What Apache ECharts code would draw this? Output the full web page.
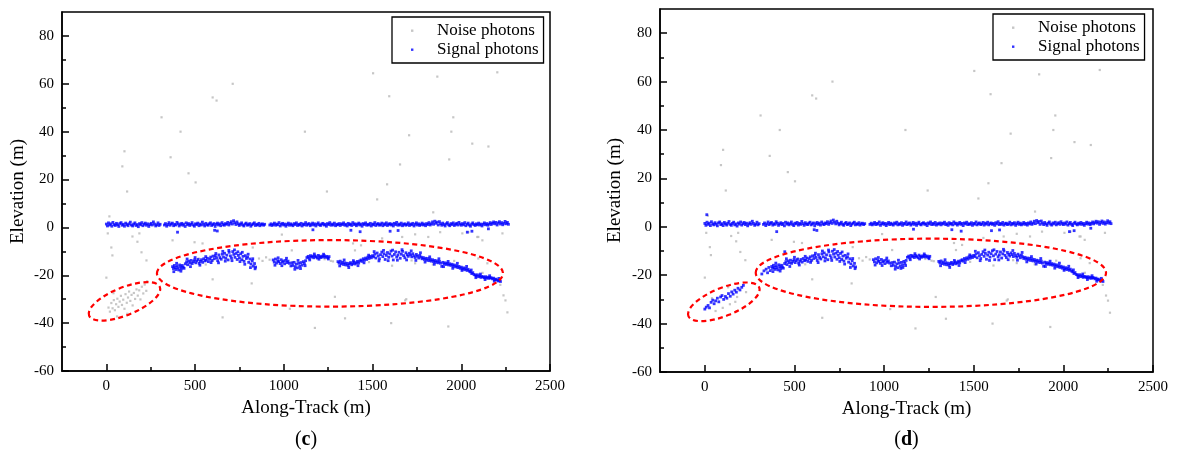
<!DOCTYPE html>
<html>
<head>
<meta charset="utf-8">
<script src="https://cdn.jsdelivr.net/npm/echarts@6/dist/echarts.min.js"></script>
<style>html,body{margin:0;padding:0;background:#fff;}#chart{width:1177px;height:462px;}</style>
</head>
<body>
<div id="chart"></div>
<script>
const xTickLabels = [0, 500, 1000, 1500, 2000, 2500];
const xMinorTicks = [250, 750, 1250, 1750, 2250];
const yTickLabels = [-60, -40, -20, 0, 20, 40, 60, 80];
const yMinorTicks = [-50, -30, -10, 10, 30, 50, 70];
const panelLabels = ['c', 'd'];
const legendNames = ['Noise photons', 'Signal photons'];

// signal photons: water surface band
const signalSurface = [
[0,1.4],[6,0.6],[12,1.9],[18,1.0],[25,1.5],[31,0.5],[37,2.1],[44,1.2],[50,0.8],[57,1.7],[63,1.1],[70,0.4],[76,1.6],[83,2.0],[89,0.9],[96,1.3],[102,0.5],[109,1.8],[115,1.2],[122,0.7],[128,1.5],[135,2.2],[141,1.0],[148,0.6],[154,1.4],[161,1.9],[167,0.8],[174,1.2],[180,0.3],[187,1.6],[193,1.1],[200,2.0],[206,0.7],[213,1.3],[219,1.8],[226,0.9],[232,1.5],[239,0.4],[245,1.2],[252,1.7],[258,1.0],[265,2.3],[271,1.4],[278,0.6],[284,1.1],[291,1.9],[297,0.8],[303,1.3],
[327,1.0],[333,1.6],[340,0.5],[346,1.2],[353,2.0],[359,0.9],[366,1.4],[372,1.8],[379,0.7],[385,1.3],[392,1.0],[398,2.1],[405,1.5],[411,0.6],[418,1.2],[424,1.7],[431,0.9],[437,1.4],[444,0.4],[450,1.9],[457,1.1],[463,1.6],[470,0.8],[476,1.3],[483,2.0],[489,1.0],[496,0.5],[502,1.5],[509,1.2],[515,1.8],[522,0.7],[528,1.4],[535,1.0],[541,2.2],[548,1.3],[554,0.6],[561,1.7],[567,1.1],[574,0.9],[580,1.5],[587,1.9],[593,0.8],[600,1.2],[606,1.6],[613,0.4],[619,1.3],[626,1.8],[632,1.0],[639,1.5],[645,0.7],[652,2.0],[658,1.2],[665,0.9],[671,1.6],[678,1.3],[684,2.1],[691,1.0],[697,1.7],[704,2.4],[710,1.4],[717,2.8],[723,1.9],[730,1.2],[736,2.3],[743,1.5],[749,0.8],[756,1.3],[762,1.9],[769,1.0],[775,0.6],[782,1.4],[788,1.8],[795,0.9],[801,1.2],[808,1.6],[814,0.5],[821,1.1],[827,1.5],[834,1.9],[840,0.8],[847,1.3],[853,1.0],[860,1.7],[866,0.7],[873,1.2],[879,1.5],[886,0.9],[892,1.3],
[921,1.0],[928,1.5],[934,0.8],[941,1.2],[947,1.8],[954,0.9],[960,1.4],[967,1.1],[973,2.0],[980,0.6],[986,1.3],[993,1.7],[999,1.0],[1006,1.4],[1012,0.5],[1019,1.2],[1025,1.8],[1032,0.9],[1038,1.5],[1045,1.1],[1051,0.7],[1058,1.6],[1064,1.2],[1071,1.9],[1077,0.8],[1084,1.3],[1090,1.0],[1097,1.7],[1103,0.6],[1110,1.4],[1116,1.1],[1123,2.0],[1129,0.9],[1136,1.3],[1142,1.6],[1149,0.7],[1155,1.2],[1162,1.8],[1168,1.0],[1175,1.5],[1181,0.6],[1188,1.3],[1194,1.9],[1201,1.1],[1207,0.8],[1214,1.4],[1220,1.7],[1227,1.0],[1233,1.3],[1240,0.5],[1246,1.6],[1253,1.2],[1259,2.0],[1266,0.9],[1272,1.4],[1279,1.0],[1285,1.8],[1292,0.7],[1298,1.3],[1305,1.1],[1311,1.6],[1318,0.8],[1324,1.5],[1331,1.2],[1337,1.9],[1344,0.9],[1350,1.3],[1357,0.6],[1363,1.7],[1370,1.1],[1376,1.4],[1383,0.8],[1389,2.0],[1396,1.2],[1402,1.5],[1409,0.7],[1415,1.3],[1422,1.8],[1428,1.0],[1435,1.4],[1441,0.5],[1448,1.6],[1454,1.2],[1461,1.9],[1467,0.9],[1474,1.3],[1480,1.0],[1487,1.7],[1493,0.6],[1500,1.4],[1506,1.1],[1513,2.0],[1519,0.8],[1526,1.3],[1532,1.6],[1539,0.9],[1545,1.2],[1552,1.8],[1558,0.7],[1565,1.5],[1571,1.1],[1578,1.9],[1584,0.8],[1591,1.3],[1597,1.6],[1604,1.0],[1610,1.4],[1617,0.6],[1623,1.7],[1630,1.2],[1636,2.1],[1643,0.9],[1649,1.4],[1656,1.0],[1662,1.8],[1669,0.7],[1675,1.3],[1682,1.5],[1688,0.9],[1695,1.2],[1701,1.9],[1708,0.8],[1714,1.4],[1721,1.1],[1727,1.7],[1734,0.6],[1740,1.3],[1747,1.9],[1753,1.0],[1760,1.5],[1766,0.8],[1773,1.2],[1779,1.8],[1786,1.0],[1792,1.4],[1799,0.7],[1805,1.6],[1812,1.2],[1818,2.0],[1825,1.0],[1831,1.5],[1838,2.3],[1844,1.3],[1851,2.6],[1857,1.7],[1864,2.2],[1870,1.0],[1877,2.4],[1883,1.5],[1890,0.9],[1896,1.8],[1903,1.2],[1909,0.6],[1916,1.5],[1922,2.0],[1929,1.1],[1935,0.7],[1942,1.6],[1948,1.2],[1955,1.9],[1961,0.8],[1968,1.3],[1974,1.7],[1981,1.0],[1987,2.1],[1994,1.4],[2000,0.9],[2007,1.6],[2013,1.1],[2020,2.0],[2026,0.7],[2033,1.3],[2039,1.8],[2046,1.0],[2052,0.5],[2059,1.4],[2065,1.9],[2072,1.2],[2078,0.8],[2085,1.5],[2091,1.1],[2098,1.8],[2104,1.0],[2111,1.4],[2117,0.6],[2124,1.3],[2130,1.9],[2137,1.1],[2143,1.6],[2150,0.9],[2156,1.4],[2163,2.0],[2169,1.2],[2176,1.7],[2182,2.3],[2189,1.5],[2195,2.1],[2202,1.0],[2208,1.8],[2215,2.4],[2221,1.4],[2228,2.0],[2234,1.1],[2241,1.7],[2247,2.5],[2254,1.5],[2260,2.1],[2266,1.3]
];
const surfaceOutliers = [[401,-2],[610,-1.2],[625,-1.5],[1164,-1],[1378,-1.2],[1430,-1.8],[1599,-1.6],[1644,-1.3],[2034,-2],[2060,-1.6],[2153,-0.6]];

// signal photons: lake bottom band
const signalGround = [
[373,-16.4],[378,-17.2],[383,-15.9],[388,-16.8],[393,-17.6],[398,-16.1],[403,-16.9],[408,-17.8],[413,-15.7],[418,-16.5],[423,-17.3],[428,-15.9],[433,-16.6],[438,-17.1],
[445,-15.2],[452,-14.4],[458,-15.6],[465,-14.1],[471,-14.9],[478,-13.8],[484,-15.1],[491,-14.3],[497,-13.6],[504,-14.8],[510,-14.0],[517,-13.4],[523,-15.0],[530,-14.2],[536,-13.5],[543,-14.6],[549,-13.1],[556,-14.0],[562,-13.7],[569,-12.9],[575,-14.3],
[582,-13.2],[588,-12.4],[595,-13.8],[601,-12.0],[608,-13.1],[614,-11.8],[621,-12.7],[627,-13.9],[634,-11.5],[640,-12.6],[647,-13.3],[653,-11.2],[660,-12.4],[666,-10.8],[673,-12.9],[679,-11.6],[686,-13.6],[692,-10.4],[699,-11.9],[705,-12.8],[712,-10.1],[718,-11.3],[725,-12.5],[731,-10.9],[737,-13.4],
[744,-11.7],[750,-12.8],[757,-11.0],[763,-13.5],[770,-12.1],[776,-14.2],[783,-11.8],[789,-13.0],[796,-12.4],[802,-14.6],[809,-13.2],[815,-15.3],[822,-14.0],[828,-16.2],[835,-15.1],[841,-16.6],
[940,-13.6],[946,-14.5],[953,-13.2],[959,-14.9],[966,-13.9],[972,-14.3],[979,-15.1],[985,-13.5],[992,-14.6],[998,-14.0],[1005,-15.2],[1011,-13.8],[1018,-14.7],[1024,-14.1],[1031,-15.0],
[1045,-14.8],[1051,-15.9],[1058,-14.6],[1064,-16.4],[1071,-15.3],[1077,-16.9],[1084,-15.0],[1090,-16.2],[1097,-14.7],[1103,-15.8],[1110,-14.3],[1116,-15.1],[1123,-13.9],
[1130,-12.6],[1137,-12.1],[1143,-12.9],[1150,-11.8],[1156,-12.4],[1163,-12.0],[1169,-12.7],[1176,-11.9],[1182,-12.3],[1189,-12.8],[1195,-11.7],[1202,-12.2],[1208,-12.6],[1215,-12.0],[1221,-12.4],[1228,-11.8],[1234,-12.5],[1241,-12.1],[1248,-12.7],[1255,-12.2],
[1305,-14.3],[1311,-14.9],[1318,-14.1],[1324,-15.2],[1331,-14.6],[1337,-15.5],[1344,-14.8],[1350,-15.7],[1357,-15.0],[1363,-15.9],[1370,-15.2],[1376,-14.7],[1383,-15.6],[1389,-15.1],[1396,-14.5],[1402,-15.3],[1409,-14.8],[1415,-14.2],[1422,-14.9],[1428,-14.0],
[1435,-13.6],[1441,-14.2],[1448,-13.1],[1454,-13.7],[1461,-12.8],[1467,-13.4],[1474,-12.4],[1480,-13.0],[1487,-12.1],[1493,-12.7],[1500,-11.8],
[1506,-12.3],[1513,-11.2],[1519,-12.8],[1526,-10.7],[1532,-11.9],[1539,-13.1],[1545,-11.4],[1552,-10.3],[1558,-12.2],[1565,-11.0],[1571,-13.4],[1578,-11.7],[1584,-10.5],[1591,-12.5],[1597,-11.1],[1604,-9.9],[1610,-12.0],[1617,-13.6],[1623,-11.3],[1630,-10.2],[1636,-12.4],[1643,-11.6],[1649,-10.4],[1656,-12.9],[1662,-11.2],[1669,-10.0],[1675,-11.8],[1682,-12.7],[1688,-10.6],[1695,-11.4],[1701,-12.1],[1708,-10.8],[1714,-11.5],[1721,-12.3],[1727,-11.0],[1734,-11.9],[1740,-12.6],[1747,-11.3],[1753,-12.0],[1760,-12.8],[1766,-11.7],
[1773,-12.4],[1779,-13.1],[1786,-12.6],[1792,-13.4],[1799,-12.9],[1805,-13.7],[1812,-13.0],[1818,-13.9],[1825,-13.3],[1831,-14.1],[1838,-13.5],[1844,-14.3],[1851,-13.8],[1857,-14.6],[1864,-14.0],[1870,-14.8],[1877,-14.2],[1883,-15.0],[1890,-16.3],[1896,-14.6],[1903,-15.3],[1909,-14.8],[1916,-15.5],[1922,-15.0],[1929,-15.7],[1935,-15.2],
[1942,-15.9],[1948,-15.4],[1955,-16.2],[1961,-15.7],[1968,-16.5],[1974,-16.0],[1981,-16.8],[1987,-16.3],[1994,-17.1],[2000,-16.6],[2007,-17.4],[2013,-16.9],[2020,-17.7],[2026,-17.2],[2033,-18.0],[2039,-17.5],[2046,-18.3],
[2052,-18.6],[2059,-19.3],[2065,-18.9],[2072,-19.7],[2078,-19.9],[2085,-20.4],[2091,-19.8],[2098,-20.6],[2104,-20.2],[2111,-20.9],[2117,-20.5],[2124,-20.7],[2130,-21.0],[2137,-20.6],[2143,-21.2],[2150,-20.8],[2156,-21.3],[2163,-21.0],[2169,-21.1],[2176,-21.5],[2182,-21.2],[2189,-21.8],[2195,-21.6],[2202,-22.0],[2208,-22.4],[2215,-22.1],[2221,-22.6]
];
// scattered signal photons around the bottom band
const signalGroundSpread = [
[380,-18.5],[396,-15.0],[420,-18.3],[455,-13.2],[474,-16.4],[500,-12.6],[527,-15.8],[560,-12.2],[590,-14.7],[617,-10.9],[632,-14.8],[656,-10.0],[670,-14.1],[690,-9.6],[708,-13.9],[722,-9.4],[741,-10.2],[753,-14.3],[766,-10.4],[780,-15.4],[799,-11.2],[812,-16.8],[825,-13.1],[838,-17.3],
[950,-15.8],[968,-12.7],[989,-16.0],[1015,-12.9],[1040,-16.1],[1062,-17.5],[1080,-13.8],[1094,-17.2],[1120,-16.0],[1146,-13.6],[1172,-11.1],[1198,-13.3],[1224,-11.2],[1251,-13.2],
[1315,-16.1],[1340,-13.6],[1366,-16.8],[1392,-13.9],[1418,-16.0],[1452,-14.8],[1478,-11.6],[1509,-10.1],[1536,-14.0],[1562,-9.6],[1588,-13.9],[1613,-9.5],[1640,-13.7],[1666,-9.3],[1692,-13.6],[1718,-9.8],[1744,-13.8],[1770,-10.6],[1796,-14.5],[1822,-12.3],[1848,-15.4],[1874,-13.1],[1900,-16.4],[1926,-14.2],[1952,-17.1],[1978,-15.0],[2004,-18.0],[2030,-16.3],[2056,-17.8],[2082,-21.0],[2108,-19.5],[2134,-21.8],[2160,-20.2],[2186,-22.5],[2212,-21.3]
];

// extra signal photons detected only in panel (d)
const extraSignalD = [[11,5],[318,-19.5],[330,-18.2],[342,-17.5],[350,-19.0],[357,-16.8],[365,-18.1],[446,-10.3],[1105,-16.8]];
const clusterSignalD = [[0,-34.0],[8,-33.2],[18,-32.5],[26,-33.5],[35,-31.2],[44,-30.3],[52,-31.8],[60,-30.6],[70,-29.5],[78,-31.0],[88,-29.0],[96,-28.4],[105,-30.0],[115,-28.8],[123,-29.5],[132,-27.6],[142,-28.7],[150,-26.9],[158,-27.8],[167,-26.2],[176,-27.0],[185,-25.4],[196,-26.1],[206,-25.0],[215,-24.2]];
const clusterNoiseD = [[100,-33.5],[140,-32],[60,-34.8],[180,-29],[230,-27],[40,-29.5],[130,-25],[170,-31]];

// noise photons in panel (c) lower-left cluster
const clusterNoiseC = [[12,-33.5],[20,-35.2],[28,-31.6],[35,-33.8],[42,-30.4],[48,-34.6],[55,-32.1],[62,-29.8],[68,-33.2],[75,-31.0],[82,-28.6],[88,-32.4],[95,-30.2],[102,-34.0],[108,-27.9],[115,-31.5],[122,-29.3],[128,-26.8],[135,-30.7],[142,-28.2],[148,-32.6],[155,-27.4],[162,-29.9],[170,-25.9],[177,-28.5],[185,-26.3],[192,-30.1],[200,-24.8],[208,-27.6],[216,-23.9],[225,-26.5],[60,-37.2],[118,-36.1],[40,-27.5],[230,-22.5]];

// noise photons (shared)
const noisePhotons = [
[712,60],[599,54.3],[621,53],[311,46],[418,40],[102,31.8],[90,25.5],[362,29.3],[463,22.6],[503,18.8],[117,15],
[1503,64.4],[1865,63],[2203,64.8],[1594,54.8],[1955,46],[1119,40],[1944,40],[1706,38.5],[2062,35],[2153,33.8],[1932,28.4],[1655,26.3],[1582,18],[1243,15],[1526,11.7],[1842,6.3],
[17,4.6],[0,-21],[8,-2.5],[28,-8.4],[34,-11.7],[147,-3.8],[186,-2.5],[175,-6],[198,-10.4],[226,-13.8],[373,-5.4],[497,-6.2],[542,-6.7],[599,-21.7],[655,-37.6],[819,-23.4],[825,-8.4],[989,-3],[1045,-9.6],[1034,-34],[1288,-29],[1051,-14.6],[1277,-14.2],
[1390,-6.7],[1554,-4.6],[1667,-4],[1740,-2.9],[1814,-4],[1881,-2],[2006,-2.5],[2096,-4],[2232,-2.5],[1610,-16],[1684,-30.5],[1740,-15],[2096,-13],[2147,-15],[2220,-24],[2238,-28.4],[2249,-30.5],[2260,-35.5],[1175,-42],[1345,-38],[1605,-40],[1927,-41.4],[1690,-30],[1435,-7.5],[1401,-9.6],[2040,-2],[2090,-4],[2119,-5.4],
[480,-15],[520,-13],[560,-15.5],[600,-14],[640,-13],[770,-13.5],[860,-13],[880,-14],[900,-12.5],[920,-13.5],[1210,-12.5],[1230,-13.3],[1265,-14],[1480,-14.5],[1720,-13.8],[1840,-15.5],[1960,-14],[2120,-19]
];

// dashed annotation ellipses (data-space centres and radii)
const ellipses = [
  {panel: 0, cx: 102, cy: -30.9, rx: 215, ry: 5.8, angle: 22},
  {panel: 0, cx: 1260, cy: -19.2, rx: 975, ry: 13.9, angle: 0},
  {panel: 1, cx: 106, cy: -31, rx: 213, ry: 5.8, angle: 22},
  {panel: 1, cx: 1261, cy: -19, rx: 977, ry: 14.1, angle: 0}
];

const FONT = 'Liberation Serif';
const grids = [
  {left: 62, top: 12, width: 488, height: 359},
  {left: 660, top: 9, width: 493, height: 363}
];
const legendPos = [{left: 392, top: 17}, {left: 993, top: 14}];
const plain = v => String(v);

function majorX(g) {
  return {gridIndex: g, type: 'value', min: -250, max: 2500, position: 'bottom',
    name: 'Along-Track (m)', nameLocation: 'middle', nameGap: 25,
    nameTextStyle: {fontFamily: FONT, fontSize: 19, color: '#000'},
    axisLine: {show: true, onZero: false, lineStyle: {color: '#000', width: 1.5}},
    axisTick: {show: true, inside: true, length: 7, lineStyle: {color: '#000', width: 1.5}, customValues: xTickLabels},
    axisLabel: {show: true, customValues: xTickLabels, formatter: plain, fontFamily: FONT, fontSize: 15, color: '#000', margin: 8},
    splitLine: {show: false}};
}
function minorX(g) {
  return {gridIndex: g, type: 'value', min: -250, max: 2500, position: 'bottom',
    axisLine: {show: false, onZero: false}, axisLabel: {show: false}, splitLine: {show: false},
    axisTick: {show: true, inside: true, length: 4, lineStyle: {color: '#000', width: 1.5}, customValues: xMinorTicks}};
}
function majorY(g, gap) {
  return {gridIndex: g, type: 'value', min: -60, max: 90, position: 'left',
    name: 'Elevation (m)', nameLocation: 'middle', nameGap: gap, nameRotate: 90,
    nameTextStyle: {fontFamily: FONT, fontSize: 19, color: '#000'},
    axisLine: {show: true, onZero: false, lineStyle: {color: '#000', width: 1.5}},
    axisTick: {show: true, inside: true, length: 7, lineStyle: {color: '#000', width: 1.5}, customValues: yTickLabels},
    axisLabel: {show: true, customValues: yTickLabels, formatter: plain, fontFamily: FONT, fontSize: 15, color: '#000', margin: 8},
    splitLine: {show: false}};
}
function minorY(g) {
  return {gridIndex: g, type: 'value', min: -60, max: 90, position: 'left',
    axisLine: {show: false, onZero: false}, axisLabel: {show: false}, splitLine: {show: false},
    axisTick: {show: true, inside: true, length: 4, lineStyle: {color: '#000', width: 1.5}, customValues: yMinorTicks}};
}
function legendFor(i) {
  return {left: legendPos[i].left, top: legendPos[i].top, orient: 'vertical', data: legendNames,
    icon: 'path://M0,0M40,14M19,6h2.4v2.4h-2.4z', itemWidth: 40, itemHeight: 14, itemGap: 2,
    borderColor: '#000', borderWidth: 1.3, padding: [5, 5, 5, 0],
    textStyle: {fontFamily: FONT, fontSize: 17, color: '#000'}};
}
function scatter(name, data, g, color, size) {
  return {type: 'scatter', name: name, xAxisIndex: g * 2, yAxisIndex: g * 2, data: data,
    symbol: 'rect', symbolSize: size, itemStyle: {color: color}, silent: true};
}

const chart = echarts.init(document.getElementById('chart'), null, {renderer: 'canvas'});
chart.setOption({
  animation: false,
  backgroundColor: '#fff',
  grid: grids.map(g => Object.assign({show: true, borderColor: '#000', borderWidth: 1.5, backgroundColor: 'transparent'}, g)),
  xAxis: [majorX(0), minorX(0), majorX(1), minorX(1)],
  yAxis: [majorY(0, 34), minorY(0), majorY(1, 35), minorY(1)],
  legend: [legendFor(0), legendFor(1)],
  series: [
    scatter(legendNames[0], noisePhotons.concat(clusterNoiseC), 0, '#b8b8b8', 2.2),
    scatter(legendNames[1], signalSurface.concat(surfaceOutliers, signalGround, signalGroundSpread), 0, '#0000ff', 2.8),
    scatter(legendNames[0], noisePhotons.concat(clusterNoiseD), 1, '#b8b8b8', 2.2),
    scatter(legendNames[1], signalSurface.concat(surfaceOutliers, signalGround, signalGroundSpread, extraSignalD, clusterSignalD), 1, '#0000ff', 2.8)
  ]
});

const elements = ellipses.map(e => {
  const idx = e.panel * 2;
  const c = chart.convertToPixel({xAxisIndex: idx, yAxisIndex: idx}, [e.cx, e.cy]);
  const px = chart.convertToPixel({xAxisIndex: idx, yAxisIndex: idx}, [e.cx + e.rx, e.cy + e.ry]);
  return {type: 'ellipse', x: c[0], y: c[1], rotation: e.angle * Math.PI / 180, z: 100, silent: true,
    shape: {cx: 0, cy: 0, rx: Math.abs(px[0] - c[0]), ry: Math.abs(c[1] - px[1])},
    style: {fill: 'none', stroke: '#ff0000', lineWidth: 2.2, lineDash: [5, 3.5]}};
});
panelLabels.forEach((lab, i) => {
  const g = grids[i];
  elements.push({type: 'text', x: g.left + g.width / 2, y: 440, z: 100, silent: true,
    style: {text: '{n|(}{b|' + lab + '}{n|)}', textAlign: 'center', textVerticalAlign: 'middle',
      rich: {n: {fontFamily: FONT, fontSize: 20, fill: '#000'}, b: {fontFamily: FONT, fontSize: 20, fontWeight: 'bold', fill: '#000'}}}});
});
chart.setOption({graphic: {elements: elements}});
</script>
</body>
</html>
